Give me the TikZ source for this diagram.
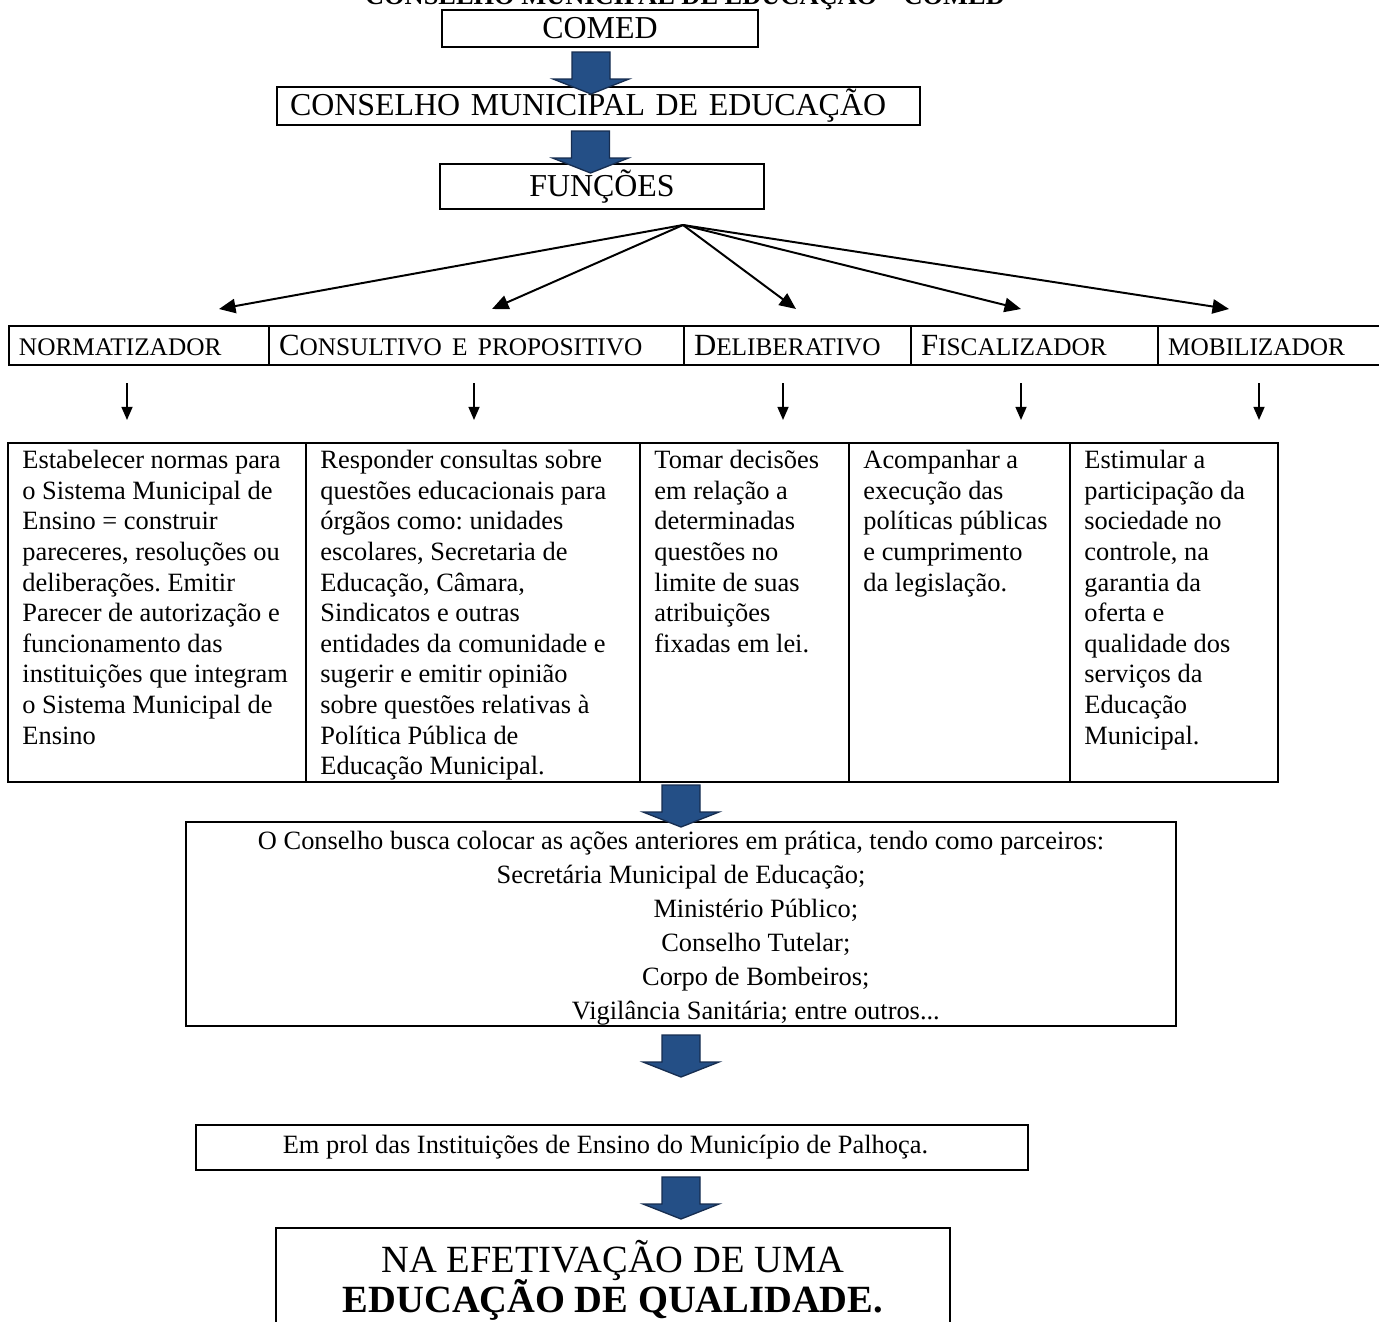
\documentclass[tikz,border=0pt]{standalone}
\usepackage{fontspec}
\setmainfont{Liberation Serif}
\usetikzlibrary{arrows.meta,positioning}
\frenchspacing

\definecolor{azul}{RGB}{36,79,134}
\definecolor{azulesc}{RGB}{22,45,80}
\newcommand{\pxu}{0.4545pt}
\newcommand{\versal}[1]{{\fontsize{11.5}{13}\selectfont #1}}
\newcommand{\juntas}{\lineskiplimit=-5pt\relax}

\begin{document}
\begin{tikzpicture}[x=\pxu, y=-\pxu,
  every node/.style={font=\fontsize{12}{13.9}\selectfont},
  caixa/.style={draw, line width=0.9pt, inner sep=0pt, outer sep=0pt},
  rotulo/.style={caixa, inner xsep={10*\pxu}, text width={(#1-20)*\pxu},
    minimum height={39*\pxu}, text height=9.3pt, text depth=0pt, align=left,
    font=\fontsize{14}{16}\selectfont},
  celula/.style={caixa, minimum width={#1*\pxu}, minimum height={339*\pxu}},
  texto/.style={align=left, inner sep=0pt, anchor=north west},
  grosso/.style={line width=0.9pt, -{Triangle[length=7.5pt,width=6.5pt]}},
  fino/.style={line width=0.8pt, -{Triangle[length=6pt,width=5pt]}},
  seta/.pic={\filldraw[fill=azul, draw=azulesc, line width=0.6pt]
    (-19,0) -- (19,0) -- (19,27) -- (38,27) -- (0,42) -- (-38,27) -- (-19,27) -- cycle;}
]
\useasboundingbox (0,0) rectangle (1379,1321);

% Title (cut by the page edge)
\node[anchor=base, font=\bfseries\fontsize{12}{14}\selectfont] (tit) at (685,4)
  {CONSELHO MUNICIPAL DE EDUCAÇÃO – COMED};

% Top boxes
\node[caixa, minimum width={316*\pxu}, minimum height={37*\pxu},
  font=\fontsize{14.5}{16}\selectfont] (comed) at (600,28.5) {COMED};
\node[caixa, inner xsep={13*\pxu}, text width={617*\pxu}, align=left,
  minimum height={38*\pxu}, font=\fontsize{14.5}{16}\selectfont] (cmde) at (598.5,106)
  {CONSELHO MUNICIPAL DE EDUCAÇÃO};
\node[caixa, minimum width={324*\pxu}, minimum height={45*\pxu},
  font=\fontsize{14.5}{16}\selectfont] (fun) at (602,186.5) {FUNÇÕES};

% Row of functions
\node[rotulo=260] (nrm) at (139,345.5) {\versal{NORMATIZADOR}};
\node[rotulo=415, right=0pt of nrm] (con) {C\versal{ONSULTIVO E PROPOSITIVO}};
\node[rotulo=227, right=0pt of con] (del) {D\versal{ELIBERATIVO}};
\node[rotulo=247, right=0pt of del] (fis) {F\versal{ISCALIZADOR}};
\node[rotulo=242, right=0pt of fis] (mob) {\versal{MOBILIZADOR}};

% Fan of arrows from FUNCOES
\coordinate (leque) at ([shift={(81,16)}]fun.south);
\foreach \no/\dx in {nrm/80, con/15.5, del/-1.5, fis/-13.5, mob/-50}
  \draw[grosso] (leque) -- ([shift={(\dx,-17)}]\no.north);

% Table of descriptions
\node[celula=298] (d1) at (157,612.5) {};
\node[celula=334, right=0pt of d1] (d2) {};
\node[celula=209, right=0pt of d2] (d3) {};
\node[celula=221, right=0pt of d3] (d4) {};
\node[celula=208, right=0pt of d4] (d5) {};

\node[texto] (t1) at ([shift={(14,7)}]d1.north west) {Estabelecer normas para\\
  o Sistema Municipal de\\ Ensino = construir\\ pareceres, resoluções ou\\
  deliberações. Emitir\\ Parecer de autorização e\\ funcionamento das\\
  instituições que integram\\ o Sistema Municipal de\\ Ensino};
\node[texto] (t2) at ([shift={(14,7)}]d2.north west) {Responder consultas sobre\\
  questões educacionais para\\ órgãos como: unidades\\ escolares, Secretaria de\\
  Educação, Câmara,\\ Sindicatos e outras\\ entidades da comunidade e\\
  sugerir e emitir opinião\\ sobre questões relativas à\\ Política Pública de\\
  Educação Municipal.};
\node[texto] (t3) at ([shift={(14,7)}]d3.north west) {Tomar decisões\\ em relação a\\
  determinadas\\ questões no\\ limite de suas\\ atribuições\\ fixadas em lei.};
\node[texto] (t4) at ([shift={(14,7)}]d4.north west) {Acompanhar a\\ execução das\\
  políticas públicas\\ e cumprimento\\ da legislação.};
\node[texto] (t5) at ([shift={(14,7)}]d5.north west) {Estimular a\\ participação da\\
  sociedade no\\ controle, na\\ garantia da\\ oferta e\\ qualidade dos\\
  serviços da\\ Educação\\ Municipal.};

% Thin arrows from functions to table
\foreach \no/\dx in {nrm/-12, con/-2.5, del/-14.5, fis/-13.5, mob/-20}
  \draw[fino] ([shift={(\dx,18)}]\no.south) -- ++(0,37);

% Partners
\node[caixa, minimum width={990*\pxu}, minimum height={204*\pxu}, align=center,
  font=\fontsize{12}{15.4}\selectfont] (parc) at (681,924)
  {\rule{0pt}{12pt}O Conselho busca colocar as ações anteriores em prática, tendo como parceiros:\\
   Secretária Municipal de Educação;\\
   \hspace*{68pt}Ministério Público;\\
   \hspace*{68pt}Conselho Tutelar;\\
   \hspace*{68pt}Corpo de Bombeiros;\\
   \hspace*{68pt}Vigilância Sanitária; entre outros...};

\node[caixa, minimum width={832*\pxu}, minimum height={45*\pxu}] (prol) at (612,1147.5)
  {Em prol das Instituições de Ensino do Município de Palhoça.\hspace*{6pt}};

\node[caixa, minimum width={674*\pxu}, minimum height={104*\pxu}, align=center,
  font=\fontsize{17.5}{18.2}\selectfont\juntas] (efet) at (613,1280)
  {NA EFETIVAÇÃO DE UMA\\ \textbf{EDUCAÇÃO DE QUALIDADE.}};

% Block arrows
\pic at ([shift={(-9,5)}]comed.south) {seta};
\pic at ([shift={(-8,6)}]cmde.south) {seta};
\pic at ([shift={(0,-37)}]parc.north) {seta};
\pic at ([shift={(0,9)}]parc.south) {seta};
\pic at ([shift={(69,7)}]prol.south) {seta};

\end{tikzpicture}
\end{document}
